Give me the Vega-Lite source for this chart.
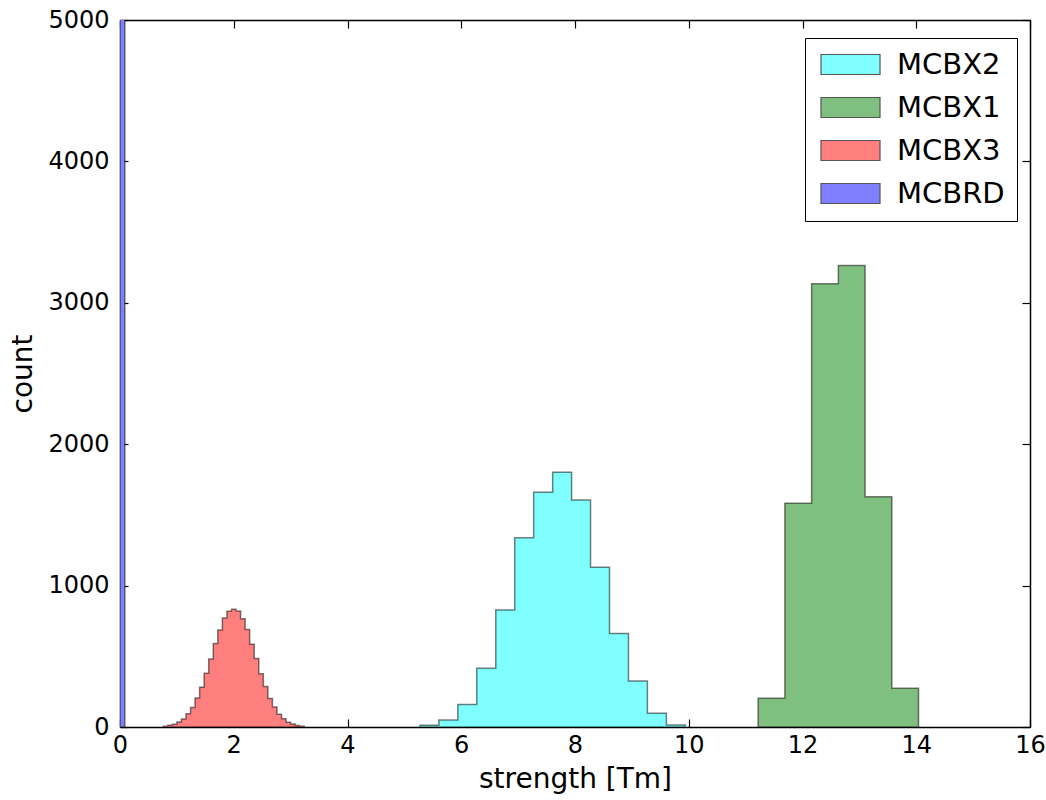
{
  "$schema": "https://vega.github.io/schema/vega-lite/v6.json",
  "width": 910,
  "height": 707,
  "autosize": "none",
  "padding": {"left": 120, "top": 20, "right": 16, "bottom": 73},
  "background": "white",
  "config": {
    "view": {"stroke": null},
    "font": "DejaVu Sans",
    "axis": {
      "domainColor": "black", "domainWidth": 1.5,
      "tickColor": "black", "tickWidth": 1.2, "tickSize": -8,
      "labelColor": "black", "titleColor": "black",
      "labelFont": "DejaVu Sans", "titleFont": "DejaVu Sans",
      "labelFontSize": 24, "titleFontSize": 28, "titleFontWeight": "normal",
      "labelFlush": false, "grid": false
    },
    "legend": {
      "labelFont": "DejaVu Sans"
    }
  },
  "data": {
    "values": [
      {"series": "MCBX2", "x": 5.273, "count": 12},
      {"series": "MCBX2", "x": 5.607, "count": 49},
      {"series": "MCBX2", "x": 5.94, "count": 160},
      {"series": "MCBX2", "x": 6.273, "count": 415},
      {"series": "MCBX2", "x": 6.607, "count": 827},
      {"series": "MCBX2", "x": 6.94, "count": 1339},
      {"series": "MCBX2", "x": 7.273, "count": 1660},
      {"series": "MCBX2", "x": 7.607, "count": 1801},
      {"series": "MCBX2", "x": 7.94, "count": 1605},
      {"series": "MCBX2", "x": 8.273, "count": 1129},
      {"series": "MCBX2", "x": 8.607, "count": 662},
      {"series": "MCBX2", "x": 8.94, "count": 325},
      {"series": "MCBX2", "x": 9.273, "count": 97},
      {"series": "MCBX2", "x": 9.607, "count": 14},
      {"series": "MCBX2", "x": 9.94, "count": 0},

      {"series": "MCBX1", "x": 11.22, "count": 203},
      {"series": "MCBX1", "x": 11.69, "count": 1582},
      {"series": "MCBX1", "x": 12.16, "count": 3135},
      {"series": "MCBX1", "x": 12.63, "count": 3263},
      {"series": "MCBX1", "x": 13.1, "count": 1629},
      {"series": "MCBX1", "x": 13.57, "count": 274},
      {"series": "MCBX1", "x": 14.04, "count": 0},

      {"series": "MCBX3", "x": 0.76, "count": 5},
      {"series": "MCBX3", "x": 0.84, "count": 12},
      {"series": "MCBX3", "x": 0.92, "count": 19},
      {"series": "MCBX3", "x": 1.0, "count": 36},
      {"series": "MCBX3", "x": 1.08, "count": 57},
      {"series": "MCBX3", "x": 1.16, "count": 93},
      {"series": "MCBX3", "x": 1.24, "count": 138},
      {"series": "MCBX3", "x": 1.32, "count": 205},
      {"series": "MCBX3", "x": 1.4, "count": 281},
      {"series": "MCBX3", "x": 1.48, "count": 380},
      {"series": "MCBX3", "x": 1.56, "count": 481},
      {"series": "MCBX3", "x": 1.64, "count": 591},
      {"series": "MCBX3", "x": 1.72, "count": 686},
      {"series": "MCBX3", "x": 1.8, "count": 771},
      {"series": "MCBX3", "x": 1.88, "count": 818},
      {"series": "MCBX3", "x": 1.96, "count": 832},
      {"series": "MCBX3", "x": 2.04, "count": 820},
      {"series": "MCBX3", "x": 2.12, "count": 765},
      {"series": "MCBX3", "x": 2.2, "count": 690},
      {"series": "MCBX3", "x": 2.28, "count": 586},
      {"series": "MCBX3", "x": 2.36, "count": 485},
      {"series": "MCBX3", "x": 2.44, "count": 376},
      {"series": "MCBX3", "x": 2.52, "count": 286},
      {"series": "MCBX3", "x": 2.6, "count": 201},
      {"series": "MCBX3", "x": 2.68, "count": 142},
      {"series": "MCBX3", "x": 2.76, "count": 90},
      {"series": "MCBX3", "x": 2.84, "count": 59},
      {"series": "MCBX3", "x": 2.92, "count": 34},
      {"series": "MCBX3", "x": 3.0, "count": 21},
      {"series": "MCBX3", "x": 3.08, "count": 10},
      {"series": "MCBX3", "x": 3.16, "count": 6},
      {"series": "MCBX3", "x": 3.24, "count": 0},

      {"series": "MCBRD", "x": 0.0, "count": 10000},
      {"series": "MCBRD", "x": 0.085, "count": 0}
    ]
  },
  "layer": [
    {
      "mark": {"type": "area", "interpolate": "step-after", "clip": true, "stroke": "black", "strokeOpacity": 0.5, "strokeWidth": 1.5, "fillOpacity": 1},
      "encoding": {
        "x": {
          "field": "x", "type": "quantitative",
          "scale": {"domain": [0, 16], "nice": false, "zero": false},
          "axis": {"orient": "bottom", "title": "strength [Tm]", "values": [0, 2, 4, 6, 8, 10, 12, 14, 16], "format": "d", "labelPadding": 14, "titlePadding": 8}
        },
        "y": {
          "field": "count", "type": "quantitative", "stack": null,
          "scale": {"domain": [0, 5000], "nice": false},
          "axis": {"orient": "left", "title": "count", "values": [0, 1000, 2000, 3000, 4000, 5000], "format": "d", "labelPadding": 19, "titlePadding": 10}
        },
        "color": {
          "field": "series", "type": "nominal",
          "scale": {"domain": ["MCBX2", "MCBX1", "MCBX3", "MCBRD"], "range": ["#7fffff", "#7fbf7f", "#ff7f7f", "#7f7fff"]},
          "legend": {
            "orient": "none", "legendX": 685, "legendY": 18, "title": null,
            "padding": 12, "strokeColor": "black", "fillColor": "white",
            "labelFontSize": 29, "labelColor": "black",
            "symbolType": "M-2.95,-1H2.95V1H-2.95Z", "symbolSize": 400,
            "symbolStrokeColor": "#555555", "symbolStrokeWidth": 1.2, "symbolOpacity": 1,
            "symbolOffset": 19, "labelOffset": 32, "rowPadding": 13
          }
        }
      }
    },
    {
      "mark": {"type": "point", "opacity": 0},
      "encoding": {
        "x": {"field": "x", "type": "quantitative", "axis": {"orient": "top", "labels": false, "title": null, "values": [0, 2, 4, 6, 8, 10, 12, 14, 16]}},
        "y": {"field": "count", "type": "quantitative", "axis": {"orient": "right", "labels": false, "title": null, "values": [0, 1000, 2000, 3000, 4000, 5000]}}
      }
    }
  ],
  "resolve": {"axis": {"x": "independent", "y": "independent"}}
}
